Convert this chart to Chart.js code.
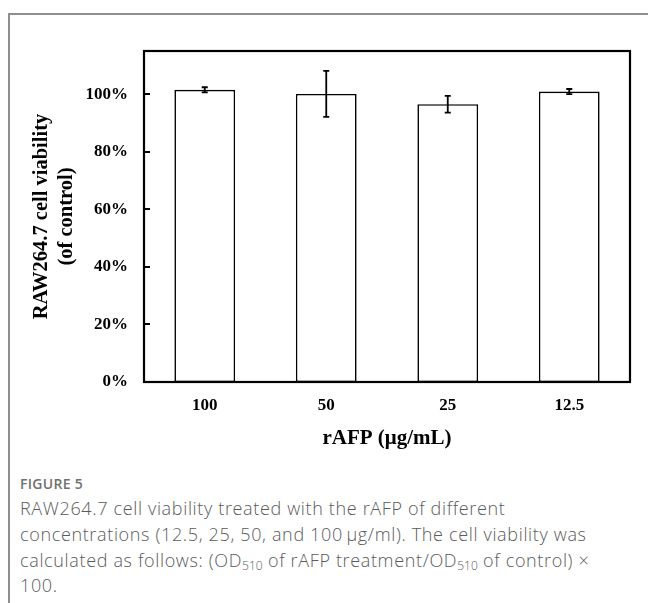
<!DOCTYPE html>
<html>
<head>
<meta charset="utf-8">
<script src="https://cdn.jsdelivr.net/npm/chart.js@4.4.0/dist/chart.umd.min.js"></script>
<style>
  html, body { margin: 0; padding: 0; background: #fff; }
  body { width: 648px; height: 603px; position: relative; overflow: hidden; }
  #frame {
    position: absolute; left: 8px; top: 13px; right: -4px; bottom: -4px;
    border-top: 2px solid #8f8f8f; border-left: 2px solid #8f8f8f;
  }
  #wrap { position: absolute; left: 0; top: 0; width: 648px; height: 470px; }
  #caption {
    position: absolute; left: 20px; top: 472px; width: 625px;
    font-family: "Open Sans", sans-serif; color: #5a5a5a;
  }
  #caption .fig { font-size: 14px; font-weight: 600; color: #707070; letter-spacing: 0.3px; line-height: 24px; }
  #caption .txt { font-size: 18px; line-height: 25.8px; letter-spacing: 0.65px; white-space: nowrap; font-weight: 300; }
  #caption sub { font-size: 12px; vertical-align: -3px; line-height: 0; letter-spacing: 0; }
</style>
</head>
<body>
<div id="frame"></div>
<div id="wrap"><canvas id="c"></canvas></div>
<div id="caption">
  <div class="fig">FIGURE 5</div>
  <div class="txt">RAW264.7 cell viability treated with the rAFP of different<br>concentrations (12.5, 25, 50, and 100&#8201;μg/ml). The cell viability was<br>calculated as follows: (OD<sub>510</sub> of rAFP treatment/OD<sub>510</sub> of control) ×<br>100.</div>
</div>
<script>
// 濃度ごとの細胞生存率（対照比 %）
const concentrations = ["100", "50", "25", "12.5"];
const viability = [101.5, 100.1, 96.5, 100.9];
const viabilityErr = [0.9, 8.0, 2.9, 0.9];
const yTicks = [0, 20, 40, 60, 80, 100];

const SERIF = "'Liberation Serif', 'Times New Roman', serif";
const PAD_LEFT = 29;

// 枠線・内向き目盛・誤差棒
const plotDecor = {
  id: "plotDecor",
  afterDatasetsDraw(chart) {
    const { ctx, chartArea: a, scales } = chart;
    const y = scales.y;
    ctx.save();
    ctx.strokeStyle = "#000";

    // error bars
    ctx.lineWidth = 1.8;
    const bars = chart.getDatasetMeta(0).data;
    bars.forEach((bar, i) => {
      const top = y.getPixelForValue(viability[i] + viabilityErr[i]);
      const bot = y.getPixelForValue(viability[i] - viabilityErr[i]);
      ctx.beginPath();
      ctx.moveTo(bar.x, top);
      ctx.lineTo(bar.x, bot);
      ctx.moveTo(bar.x - 3, top);
      ctx.lineTo(bar.x + 3, top);
      ctx.moveTo(bar.x - 3, bot);
      ctx.lineTo(bar.x + 3, bot);
      ctx.stroke();
    });

    // inward y ticks
    ctx.lineWidth = 2;
    for (const v of yTicks) {
      const py = Math.round(y.getPixelForValue(v));
      ctx.beginPath();
      ctx.moveTo(a.left, py);
      ctx.lineTo(a.left + 6, py);
      ctx.stroke();
    }

    // plot frame
    ctx.lineWidth = 2.2;
    ctx.strokeRect(a.left, a.top, a.right - a.left, a.bottom - a.top);
    ctx.restore();
  },
};

new Chart(document.getElementById("c"), {
  type: "bar",
  data: {
    labels: concentrations,
    datasets: [
      {
        data: viability,
        backgroundColor: "#fff",
        borderColor: "#000",
        borderWidth: 1.6,
        borderSkipped: false,
        barPercentage: 0.5,
        categoryPercentage: 1,
      },
    ],
  },
  options: {
    responsive: true,
    maintainAspectRatio: false,
    animation: false,
    layout: { padding: { left: PAD_LEFT, right: 18, top: 51, bottom: 0 } },
    plugins: { legend: { display: false }, tooltip: { enabled: false } },
    scales: {
      x: {
        grid: { display: false, drawTicks: false },
        border: { display: false },
        ticks: {
          padding: 13,
          color: "#000",
          font: { family: SERIF, size: 17, weight: "bold" },
        },
        title: {
          display: true,
          text: "rAFP (μg/mL)",
          color: "#000",
          font: { family: SERIF, size: 21, weight: "bold" },
          padding: { top: 0, bottom: 19 },
        },
        afterFit(scale) { scale.height = 88; },
      },
      y: {
        min: 0,
        max: 115,
        grid: { display: false, drawTicks: false },
        border: { display: false },
        ticks: {
          stepSize: 20,
          includeBounds: false,
          padding: 16,
          color: "#000",
          font: { family: SERIF, size: 17, weight: "bold" },
          callback: (v) => (yTicks.includes(v) ? `${v}%` : ""),
        },
        title: {
          display: true,
          text: ["RAW264.7 cell viability", "(of control)"],
          color: "#000",
          font: { family: SERIF, size: 20.5, weight: "bold", lineHeight: 1.22 },
          padding: { top: 0, bottom: 0 },
        },
        afterFit(scale) { scale.width = 144 - PAD_LEFT; },
      },
    },
  },
  plugins: [plotDecor],
});
</script>
</body>
</html>
